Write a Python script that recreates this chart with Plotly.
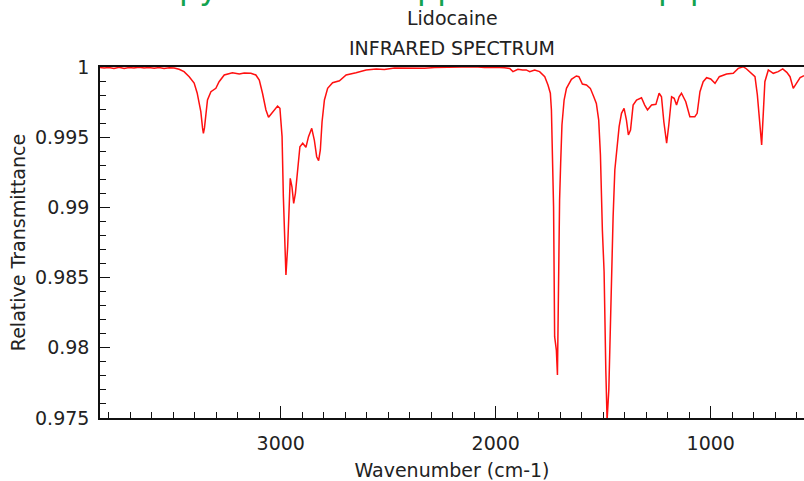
import plotly.graph_objects as go

# Lidocaine IR spectrum
wavenumber = [
    3841, 3822, 3799, 3776, 3752, 3729, 3706, 3683, 3659, 3636, 3613, 3589, 3566, 3543, 3519, 3496,
    3473, 3450, 3426, 3403, 3389, 3380, 3372, 3364, 3360, 3355, 3349, 3341, 3325, 3302, 3287, 3263,
    3225, 3193, 3170, 3139, 3116, 3100, 3085, 3069, 3057, 3038, 3015, 3004, 2994, 2988, 2982, 2976,
    2968, 2960, 2956, 2948, 2940, 2932, 2922, 2911, 2898, 2883, 2871, 2856, 2844, 2833, 2824, 2816,
    2808, 2797, 2782, 2759, 2727, 2696, 2650, 2603, 2556, 2518, 2471, 2425, 2378, 2331, 2285, 2238,
    2192, 2145, 2098, 2052, 2005, 1959, 1935, 1920, 1897, 1875, 1858, 1842, 1819, 1796, 1772, 1757,
    1746, 1741, 1737, 1731, 1726, 1718, 1713, 1710, 1703, 1698, 1692, 1682, 1671, 1648, 1625, 1613,
    1597, 1578, 1560, 1544, 1532, 1521, 1513, 1504, 1496, 1488, 1482, 1474, 1468, 1462, 1454, 1446,
    1436, 1426, 1415, 1403, 1392, 1383, 1373, 1361, 1345, 1322, 1307, 1294, 1275, 1255, 1240, 1229,
    1218, 1205, 1195, 1182, 1170, 1159, 1147, 1136, 1116, 1097, 1074, 1063, 1050, 1035, 1019, 1000,
    980, 960, 926, 895, 872, 849, 833, 810, 794, 783, 774, 763, 755, 748, 732, 709,
    686, 665, 646, 631, 616, 600, 584, 566,
]
transmittance = [
    0.99996, 0.99993, 0.99996, 0.99989, 0.99998, 0.99989, 0.99996, 0.99993, 0.99999, 0.99993, 0.99996, 0.99991, 0.99996, 0.99989, 0.99994, 0.99993,
    0.99984, 0.99967, 0.99931, 0.99886, 0.99815, 0.99744, 0.99682, 0.99566, 0.99528, 0.99566, 0.99672, 0.99765, 0.99824, 0.99848, 0.99895, 0.99943,
    0.99959, 0.99950, 0.99957, 0.99955, 0.99943, 0.99907, 0.99813, 0.99694, 0.99642, 0.99682, 0.99722, 0.99706, 0.99504, 0.99076, 0.98791, 0.98518,
    0.98720, 0.99100, 0.99207, 0.99147, 0.99029, 0.99100, 0.99266, 0.99432, 0.99457, 0.99428, 0.99504, 0.99563, 0.99480, 0.99361, 0.99333, 0.99409,
    0.99610, 0.99765, 0.99848, 0.99888, 0.99902, 0.99943, 0.99959, 0.99979, 0.99986, 0.99982, 0.99993, 0.99991, 0.99994, 0.99991, 0.99996, 0.99998,
    1.00000, 0.99999, 1.00001, 0.99996, 0.99998, 0.99994, 0.99989, 0.99967, 0.99984, 0.99979, 0.99979, 0.99967, 0.99979, 0.99967, 0.99931, 0.99872,
    0.99813, 0.99694, 0.99350, 0.99005, 0.98079, 0.97984, 0.97806, 0.98293, 0.99053, 0.99314, 0.99587, 0.99765, 0.99848, 0.99912, 0.99936, 0.99931,
    0.99879, 0.99872, 0.99848, 0.99788, 0.99741, 0.99622, 0.99373, 0.98839, 0.98542, 0.97842, 0.97486, 0.97699, 0.98103, 0.98531, 0.98934, 0.99266,
    0.99432, 0.99575, 0.99670, 0.99706, 0.99622, 0.99516, 0.99551, 0.99729, 0.99765, 0.99781, 0.99729, 0.99694, 0.99729, 0.99734, 0.99813, 0.99788,
    0.99610, 0.99457, 0.99587, 0.99788, 0.99777, 0.99729, 0.99788, 0.99813, 0.99753, 0.99646, 0.99646, 0.99670, 0.99824, 0.99895, 0.99924, 0.99915,
    0.99884, 0.99931, 0.99950, 0.99955, 0.99990, 1.00002, 0.99986, 0.99955, 0.99931, 0.99801, 0.99610, 0.99444, 0.99682, 0.99895, 0.99979, 0.99955,
    0.99967, 0.99986, 0.99962, 0.99931, 0.99848, 0.99884, 0.99924, 0.99938,
]

x_tick_vals = [3000, 2000, 1000]
x_tick_text = ["3000", "2000", "1000"]
y_tick_vals = [1.0, 0.995, 0.99, 0.985, 0.98, 0.975]
y_tick_text = ["1", "0.995", "0.99", "0.985", "0.98", "0.975"]

title_main = "Lidocaine"
title_sub = "INFRARED SPECTRUM"
x_title = "Wavenumber (cm-1)"
y_title = "Relative Transmittance"
# fragments of a larger green heading cut off at the top edge of the picture
green_fragments = ["py", "pp", "pq"]
green_fragment_x = [0.110, 0.448, 0.790]

FONT = "DejaVu Sans"
TXT = "#222222"
FS = 19

fig = go.Figure()
fig.add_trace(go.Scatter(
    x=wavenumber, y=transmittance, mode="lines",
    line=dict(color="#ff1010", width=1.5),
    showlegend=False, hoverinfo="skip",
))

fig.update_layout(
    width=804, height=481,
    margin=dict(l=100, r=0, t=67, b=63),
    paper_bgcolor="white", plot_bgcolor="white",
    font=dict(family=FONT, size=FS, color=TXT),
    showlegend=False,
)

fig.update_xaxes(
    range=[3841, 566], autorange=False,
    showgrid=False, zeroline=False,
    showline=True, linecolor="#111111", linewidth=1.5, mirror=True,
    ticks="inside", ticklen=12, tickwidth=1, tickcolor="#111111",
    tickvals=x_tick_vals, ticktext=x_tick_text,
    tickfont=dict(family=FONT, size=FS, color=TXT),
    ticklabelstandoff=7,
    minor=dict(ticks="inside", ticklen=6, dtick=100, tick0=0, tickcolor="#111111", showgrid=False),
    title=dict(text=x_title, font=dict(family=FONT, size=FS, color=TXT), standoff=14),
)
fig.update_yaxes(
    range=[0.975, 1.0], autorange=False,
    showgrid=False, zeroline=False,
    showline=True, linecolor="#111111", linewidth=1.5, mirror=False,
    ticks="inside", ticklen=10, tickwidth=1, tickcolor="#111111",
    tickvals=y_tick_vals, ticktext=y_tick_text,
    tickfont=dict(family=FONT, size=FS, color=TXT),
    ticklabelstandoff=5,
    minor=dict(ticks="inside", ticklen=6, dtick=0.001, tick0=0.975, tickcolor="#111111", showgrid=False),
    title=dict(text=y_title, font=dict(family=FONT, size=FS, color=TXT), standoff=4),
)

fig.add_annotation(text=title_main, xref="paper", yref="paper", x=0.5, y=1.0,
                   yshift=49, showarrow=False, xanchor="center", yanchor="middle",
                   font=dict(family=FONT, size=FS, color=TXT))
fig.add_annotation(text=title_sub, xref="paper", yref="paper", x=0.5, y=1.0,
                   yshift=19, showarrow=False, xanchor="center", yanchor="middle",
                   font=dict(family=FONT, size=FS, color=TXT))
for txt, gx in zip(green_fragments, green_fragment_x):
    fig.add_annotation(text=txt, xref="paper", yref="paper", x=gx, y=1.0,
                       yshift=58, showarrow=False, xanchor="left", yanchor="bottom",
                       font=dict(family=FONT, size=32, color="#13a34f"))

fig.write_html("out.html", config={"displayModeBar": False},
               post_script="document.body.style.margin='0';")
